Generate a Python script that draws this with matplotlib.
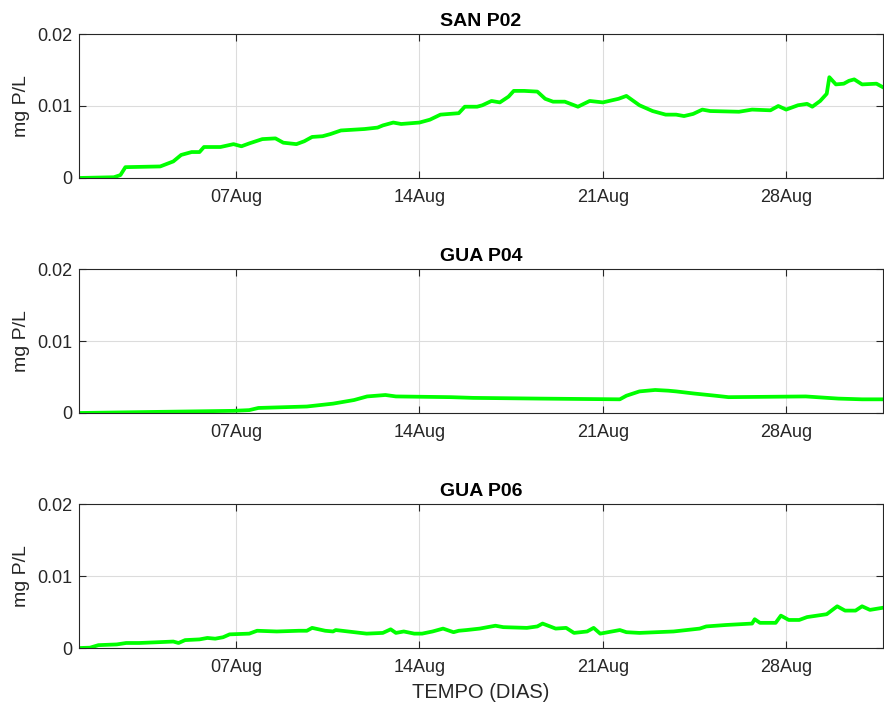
import numpy as np
import matplotlib.pyplot as plt

plt.rcParams['font.family'] = ['Liberation Sans', 'DejaVu Sans']

# time in days since 01 Aug 00:00
san_t = [0, 1.33, 1.58, 1.77, 3.1, 3.6, 3.9, 4.3, 4.6, 4.77, 5.4, 5.9, 6.2, 6.5, 7.0, 7.5,
         7.8, 8.3, 8.6, 8.9, 9.3, 9.6, 10.0, 10.9, 11.4, 11.6, 12.0, 12.3, 13.0, 13.4, 13.8,
         14.5, 14.73, 15.2, 15.4, 15.75, 16.07, 16.4, 16.6, 17.0, 17.5, 17.8, 18.1, 18.55,
         19.05, 19.5, 20.0, 20.6, 20.9, 21.4, 21.9, 22.4, 22.8, 23.1, 23.45, 23.8, 24.1,
         25.2, 25.7, 26.4, 26.7, 27.0, 27.45, 27.8, 28.0, 28.3, 28.55, 28.65, 28.9, 29.2,
         29.4, 29.6, 29.9, 30.45, 30.7]
san_p02 = [0, 0.0001, 0.0004, 0.0015, 0.0016, 0.0023, 0.0032, 0.0036, 0.0036, 0.0043, 0.0043,
           0.0047, 0.0044, 0.0048, 0.0054, 0.0055, 0.0049, 0.0047, 0.0051, 0.0057, 0.0058,
           0.0061, 0.0066, 0.0068, 0.0070, 0.0073, 0.0077, 0.0075, 0.0077, 0.0081, 0.0088,
           0.0090, 0.0099, 0.0099, 0.0101, 0.0107, 0.0105, 0.0113, 0.0121, 0.0121, 0.0120,
           0.0110, 0.0106, 0.0106, 0.0099, 0.0107, 0.0105, 0.0110, 0.0114, 0.0101, 0.0093,
           0.0088, 0.0088, 0.0086, 0.0089, 0.0095, 0.0093, 0.0092, 0.0095, 0.0094, 0.0100,
           0.0095, 0.0101, 0.0103, 0.0099, 0.0107, 0.0117, 0.0140, 0.0130, 0.0131, 0.0135,
           0.0137, 0.0130, 0.0131, 0.0126]

p04_t = [0, 2.7, 5.9, 6.5, 6.85, 8.7, 9.7, 10.5, 11.0, 11.7, 12.1, 14.2, 15.05, 17.6, 20.65,
         20.9, 21.4, 22.0, 22.5, 22.8, 23.5, 24.3, 24.8, 27.75, 29.0, 29.9, 30.7]
gua_p04 = [0, 0.00014, 0.0003, 0.0004, 0.0007, 0.0009, 0.0013, 0.0018, 0.0023, 0.0025, 0.0023,
           0.0022, 0.0021, 0.0020, 0.0019, 0.0024, 0.0030, 0.0032, 0.0031, 0.0030, 0.0027,
           0.0024, 0.0022, 0.0023, 0.0020, 0.0019, 0.0019]

p06_t = [0, 0.42, 0.74, 1.44, 1.8, 2.3, 2.97, 3.6, 3.8, 4.05, 4.6, 4.9, 5.2, 5.5, 5.75, 6.5,
         6.8, 7.55, 8.4, 8.7, 8.9, 9.4, 9.7, 9.8, 10.98, 11.6, 11.9, 12.1, 12.4, 12.8, 13.1,
         13.5, 13.9, 14.3, 14.5, 14.8, 15.3, 15.9, 16.2, 17.1, 17.5, 17.7, 18.2, 18.6, 18.9,
         19.4, 19.65, 19.9, 20.65, 20.9, 21.4, 22.7, 23.7, 23.95, 24.7, 25.7, 25.8, 26.0,
         26.6, 26.8, 27.1, 27.5, 27.8, 28.55, 28.95, 29.25, 29.65, 29.9, 30.2, 30.7]
gua_p06 = [0, 0.00005, 0.0004, 0.0005, 0.0007, 0.0007, 0.0008, 0.0009, 0.0007, 0.0011, 0.0012,
           0.0014, 0.0013, 0.0015, 0.0019, 0.0020, 0.0024, 0.0023, 0.0024, 0.0024, 0.0028,
           0.0024, 0.0023, 0.0025, 0.0020, 0.0021, 0.0026, 0.0021, 0.0023, 0.0020, 0.0020,
           0.0023, 0.0027, 0.0022, 0.0024, 0.0025, 0.0027, 0.0031, 0.0029, 0.0028, 0.0030,
           0.0034, 0.0027, 0.0028, 0.0021, 0.0023, 0.0028, 0.0020, 0.0025, 0.0022, 0.0021,
           0.0023, 0.0027, 0.0030, 0.0032, 0.0034, 0.0040, 0.0035, 0.0035, 0.0045, 0.0039,
           0.0039, 0.0043, 0.0047, 0.0058, 0.0052, 0.0052, 0.0058, 0.0053, 0.0056]

titles = ['SAN P02', 'GUA P04', 'GUA P06']
tick_days = [6, 13, 20, 27]
tick_labels = ['07Aug', '14Aug', '21Aug', '28Aug']
ytick_vals = [0, 0.01, 0.02]
ytick_labels = ['0', '0.01', '0.02']

series = [(san_t, san_p02), (p04_t, gua_p04), (p06_t, gua_p06)]
bottoms = [0.749, 0.4175, 0.086]

fig = plt.figure(figsize=(8.84, 7.09), dpi=100)
dark = '#262626'
for k in range(3):
    ax = fig.add_axes([0.0894, bottoms[k], 0.9095, 0.203])
    t, v = series[k]
    ax.plot(t, v, color=(0, 1, 0), lw=2.7, solid_joinstyle='round')
    ax.set_xlim(0, 30.7)
    ax.set_ylim(0, 0.02)
    ax.set_xticks(tick_days)
    ax.set_xticklabels(tick_labels)
    ax.set_yticks(ytick_vals)
    ax.set_yticklabels(ytick_labels)
    ax.grid(True, color='#dcdcdc', lw=0.8)
    ax.set_axisbelow(True)
    ax.tick_params(direction='in', top=True, right=True, length=5, width=0.8,
                   colors=dark, labelsize=13)
    ax.tick_params(axis='x', pad=8)
    ax.tick_params(axis='y', pad=5)
    for s in ax.spines.values():
        s.set_color(dark)
        s.set_linewidth(0.8)
    ax.set_title(titles[k], fontsize=14, fontweight='bold', pad=6)
    ax.set_ylabel('mg P/L', fontsize=14, color=dark, labelpad=5)
    if k == 2:
        ax.set_xlabel('TEMPO (DIAS)', fontsize=14.5, color=dark, labelpad=5)

fig.savefig('out.png')
